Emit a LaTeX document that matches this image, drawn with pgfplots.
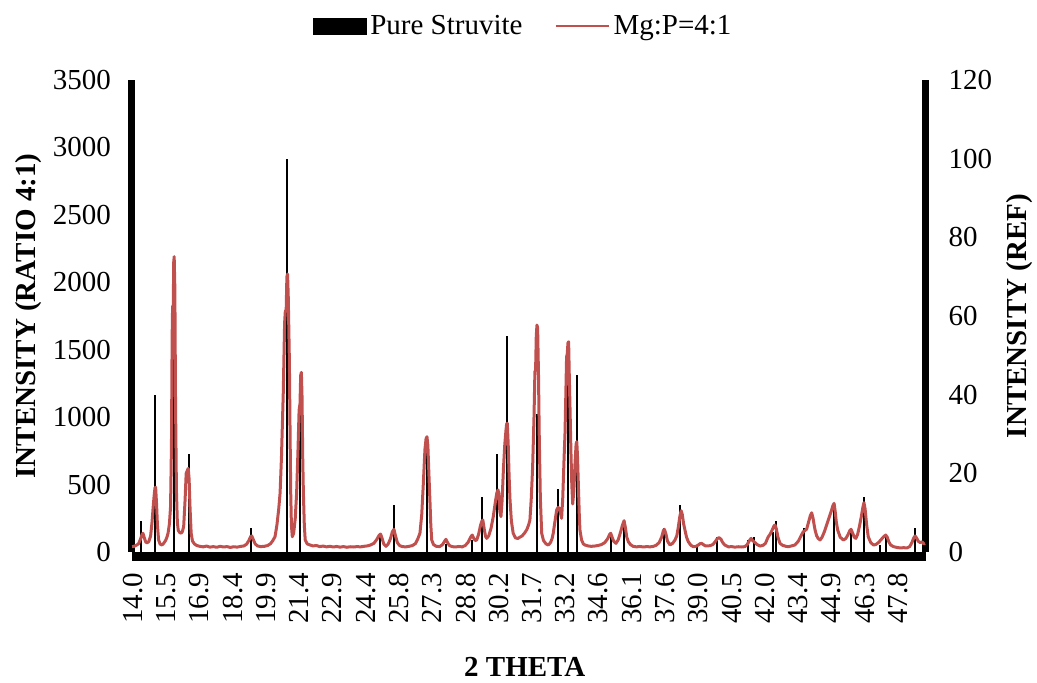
\documentclass[border=0pt]{standalone}
\usepackage{fontspec}
\setmainfont{Liberation Serif}
\usepackage{pgfplots}
\pgfplotsset{compat=1.18}
\definecolor{exred}{RGB}{192,80,77}
\newcommand{\fs}{\fontsize{14.5}{17}\selectfont}
\begin{document}
\begin{tikzpicture}
\useasboundingbox (-66pt,-65.5pt) rectangle (452.5pt,276pt);
% reference bars (right axis)
\begin{axis}[
  scale only axis, width=396.75pt, height=236pt,
  xmin=13.956, xmax=49.02, ymin=0, ymax=120,
  axis x line=none, axis y line*=right,
  y axis line style={-, line width=3.5pt},
  ytick={0,20,...,120},
  major tick length=0pt,
  tick label style={font=\fs},
  yticklabel style={xshift=8pt},
  /pgf/number format/assume math mode=true,
  ylabel={INTENSITY (REF)},
  ylabel style={font=\fs\bfseries, at={(axis description cs:1.119,0.5)}, anchor=center},
]
\addplot[ycomb, black, line width=1pt, mark=none] table {
x y
14.37 8
14.96 40
15.79 63
16.46 25
19.23 6
20.81 100
21.39 39
24.93 4.6
25.53 12
26.99 28
27.82 2
28.98 3
29.43 14
30.09 25
30.51 55
31.84 35
32.79 16
33.22 50
33.62 45
35.12 4.7
35.68 8
37.45 6
38.15 12
38.93 1.4
39.80 3.9
41.17 3
41.44 3.9
42.26 5.2
42.41 8
43.66 6
44.97 12
45.71 6
46.30 14
47.01 1.8
47.27 4.7
48.57 6
};
\end{axis}
% sample pattern (left axis)
\begin{axis}[
  scale only axis, width=396.75pt, height=236pt,
  xmin=13.956, xmax=49.02, ymin=0, ymax=3500,
  axis y line*=left, axis x line*=bottom,
  x axis line style={draw=none},
  y axis line style={-, line width=3.5pt},
  ytick={0,500,...,3500},
  xtick={14.000,15.470,16.939,18.409,19.878,21.348,22.818,24.287,25.757,27.226,28.696,30.166,31.635,33.105,34.574,36.044,37.514,38.983,40.453,41.922,43.392,44.862,46.331,47.801},
  xticklabels={14.0,15.5,16.9,18.4,19.9,21.4,22.9,24.4,25.8,27.3,28.8,30.2,31.7,33.2,34.6,36.1,37.6,39.0,40.5,42.0,43.4,44.9,46.3,47.8},
  major tick length=0pt,
  tick label style={font=\fs},
  yticklabel style={xshift=-7pt},
  xticklabel style={yshift=-7pt, rotate=90, anchor=east},
  /pgf/number format/assume math mode=true,
  /pgf/number format/1000 sep={},
  scaled y ticks=false,
  ylabel={INTENSITY (RATIO 4:1)},
  ylabel style={font=\fs\bfseries, at={(axis description cs:-0.131,0.5)}, anchor=center},
  xlabel={2 THETA},
  xlabel style={font=\fs\bfseries, at={(axis description cs:0.495,-0.244)}, anchor=center},
  legend style={at={(axis description cs:0.494,1.114)}, anchor=center, draw=none, fill=none,
    legend columns=2, font=\fs, /tikz/every even column/.append style={column sep=14pt}},
  legend cell align=left,
  after end axis/.code={\draw[line width=4.5pt] ([yshift=-2.25pt]rel axis cs:0,0) -- ([yshift=-2.25pt]rel axis cs:1,0);},
]
\addlegendimage{legend image code/.code={\fill[black] (0pt,-4pt) rectangle (26.5pt,4pt);}}
\addlegendentry{Pure Struvite}
\addplot[exred, line width=1.5pt, mark=none, line join=round,
  legend image code/.code={\draw[exred, line width=1pt] (0pt,0pt) -- (26.5pt,0pt);}] table {
x y
13.96 40
14.05 42
14.15 50
14.25 62
14.33 95
14.40 130
14.44 139
14.50 105
14.56 75
14.62 67
14.70 78
14.78 120
14.84 220
14.89 330
14.93 410
14.97 475
15.00 480
15.04 360
15.08 200
15.13 90
15.20 58
15.28 52
15.36 65
15.44 85
15.50 110
15.55 140
15.61 210
15.66 336
15.70 800
15.73 1600
15.75 1819
15.78 1830
15.80 2150
15.82 2190
15.85 1950
15.88 1100
15.92 450
15.96 220
16.00 160
16.06 145
16.12 139
16.18 150
16.24 190
16.30 380
16.35 583
16.39 600
16.44 620
16.48 540
16.52 330
16.57 139
16.63 80
16.72 59
16.82 48
16.95 42
17.10 38
17.25 44
17.40 36
17.55 40
17.70 35
17.85 42
18.00 37
18.15 40
18.30 34
18.45 39
18.60 36
18.75 41
18.90 45
19.02 58
19.12 85
19.20 115
19.25 119
19.32 90
19.40 60
19.50 45
19.65 40
19.80 42
19.95 48
20.08 62
20.18 85
20.275 113
20.36 200
20.44 320
20.50 437
20.56 700
20.64 1177
20.70 1700
20.73 1782
20.77 1800
20.80 2040
20.83 2061
20.86 1900
20.91 1424
20.94 900
20.97 435
21.00 200
21.04 113
21.10 140
21.17 250
21.23 435
21.29 750
21.34 1053
21.38 1100
21.41 1310
21.44 1332
21.47 1150
21.50 700
21.53 435
21.57 200
21.61 89
21.70 60
21.82 52
21.95 45
22.10 48
22.25 40
22.40 44
22.55 38
22.70 42
22.85 37
23.00 41
23.15 36
23.30 40
23.45 35
23.60 39
23.75 37
23.90 40
24.05 38
24.20 42
24.35 45
24.50 52
24.65 65
24.78 95
24.88 125
24.94 133
25.00 105
25.08 60
25.18 42
25.28 60
25.38 100
25.46 150
25.53 168
25.60 120
25.68 70
25.78 48
25.90 40
26.05 38
26.20 42
26.35 48
26.48 62
26.58 95
26.68 139
26.76 280
26.83 509
26.90 760
26.95 840
26.99 855
27.03 790
27.08 560
27.12 386
27.16 200
27.20 89
27.28 55
27.40 42
27.55 40
27.68 55
27.77 80
27.83 94
27.90 70
27.98 48
28.10 40
28.25 37
28.40 41
28.55 38
28.68 48
28.80 70
28.92 110
28.99 126
29.06 100
29.12 85
29.19 89
29.27 130
29.36 200
29.42 230
29.46 237
29.52 170
29.58 115
29.63 101
29.72 120
29.82 175
29.92 262
30.02 380
30.08 440
30.13 460
30.17 430
30.21 300
30.26 262
30.31 380
30.37 620
30.43 800
30.48 900
30.51 950
30.54 954
30.58 800
30.62 560
30.66 386
30.72 230
30.80 139
30.90 105
31.00 100
31.10 110
31.20 120
31.30 140
31.40 165
31.48 200
31.54 237
31.60 400
31.66 633
31.72 1000
31.76 1337
31.79 1350
31.82 1600
31.85 1683
31.88 1660
31.92 1300
31.95 880
32.00 400
32.06 139
32.14 85
32.25 60
32.35 52
32.45 70
32.52 100
32.57 139
32.64 220
32.72 311
32.78 330
32.84 324
32.90 280
32.94 250
32.99 400
33.05 700
33.09 880
33.13 1200
33.16 1448
33.19 1470
33.22 1550
33.25 1559
33.28 1300
33.32 1000
33.35 756
33.39 500
33.43 356
33.48 450
33.53 650
33.58 800
33.61 818
33.64 720
33.68 500
33.72 280
33.75 163
33.82 90
33.90 60
33.97 52
34.10 45
34.25 42
34.40 44
34.55 48
34.70 55
34.85 70
34.98 100
35.06 130
35.11 139
35.17 110
35.24 80
35.34 64
35.44 90
35.55 150
35.63 200
35.70 232
35.76 180
35.82 110
35.89 76
35.98 55
36.10 42
36.25 38
36.40 41
36.55 37
36.70 40
36.85 38
37.00 42
37.12 50
37.25 70
37.36 110
37.44 160
37.48 168
37.54 140
37.62 80
37.73 52
37.85 65
37.95 89
38.03 120
38.10 188
38.16 260
38.22 306
38.27 280
38.33 210
38.39 163
38.46 110
38.54 76
38.65 50
38.76 39
38.88 42
38.98 52
39.06 62
39.13 64
39.20 55
39.30 45
39.41 45
39.52 48
39.62 55
39.72 75
39.82 100
39.90 106
39.98 95
40.06 70
40.15 52
40.31 38
40.45 40
40.60 36
40.75 39
40.90 37
41.04 40
41.14 55
41.24 85
41.31 101
41.38 85
41.45 75
41.49 69
41.58 55
41.71 44
41.85 50
41.95 65
42.07 113
42.15 130
42.25 165
42.33 195
42.37 200
42.43 170
42.50 110
42.59 64
42.70 50
42.85 42
42.96 39
43.10 45
43.25 52
43.40 80
43.55 130
43.62 150
43.70 160
43.77 170
43.85 220
43.93 270
43.99 291
44.05 250
44.10 200
44.14 163
44.21 120
44.28 100
44.36 89
44.45 110
44.55 150
44.65 200
44.75 250
44.85 300
44.92 340
44.98 361
45.03 300
45.08 220
45.14 163
45.25 110
45.39 89
45.50 100
45.60 130
45.68 160
45.73 168
45.80 140
45.87 110
45.94 101
46.02 130
46.10 190
46.18 260
46.25 330
46.30 366
46.35 320
46.42 200
46.49 113
46.60 70
46.72 52
46.82 55
46.94 70
47.05 90
47.15 110
47.26 126
47.33 110
47.40 75
47.48 52
47.60 40
47.75 34
47.90 30
48.05 32
48.20 30
48.32 40
48.42 70
48.50 105
48.56 119
48.62 105
48.70 80
48.78 70
48.87 75
48.95 60
49.00 64
};
\addlegendentry{Mg:P=4:1}
\end{axis}
\end{tikzpicture}
\end{document}
